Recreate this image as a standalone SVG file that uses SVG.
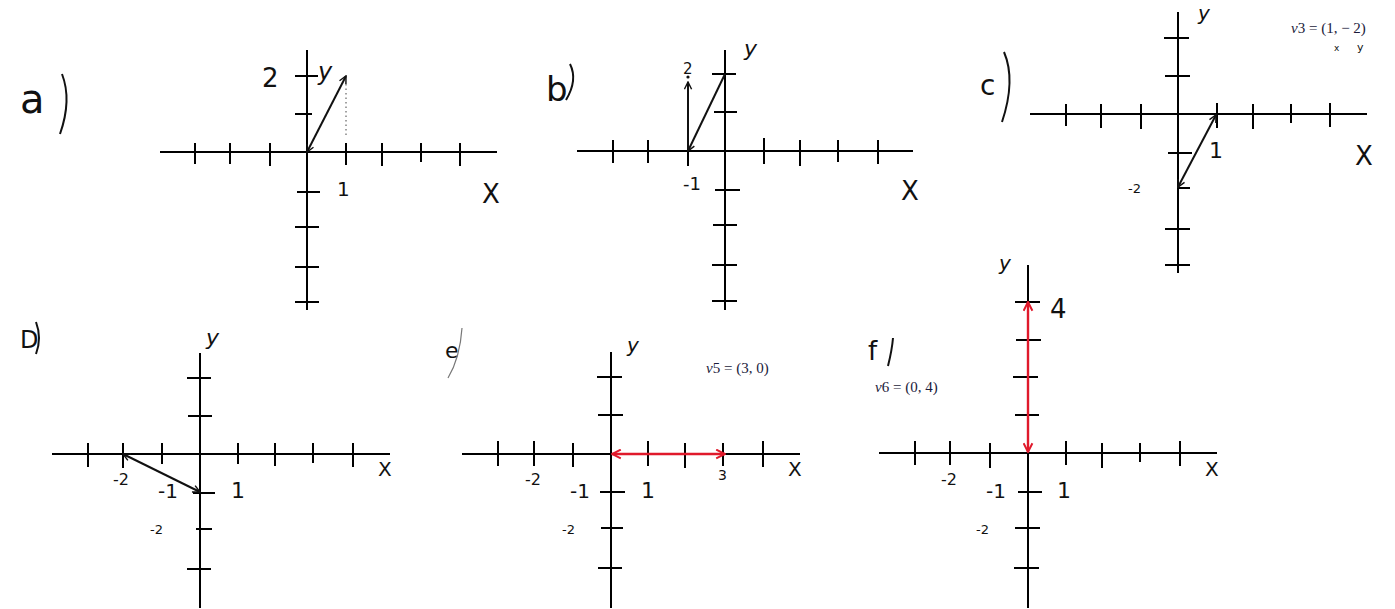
<svg xmlns="http://www.w3.org/2000/svg" width="1395" height="609" viewBox="0 0 1395 609">
<defs>
<marker id="ah" viewBox="0 0 10 10" refX="9" refY="5" markerWidth="9" markerHeight="9" orient="auto-start-reverse" markerUnits="userSpaceOnUse">
<path d="M1,1 L9,5 L1,9" fill="none" stroke="#111" stroke-width="1.6"/>
</marker>
<marker id="ahr" viewBox="0 0 10 10" refX="9" refY="5" markerWidth="11" markerHeight="11" orient="auto-start-reverse" markerUnits="userSpaceOnUse">
<path d="M1,1 L9,5 L1,9" fill="none" stroke="#e0192b" stroke-width="1.8"/>
</marker>
</defs>
<style>
.ax{stroke:#000;stroke-width:2;fill:none}
.tk{stroke:#000;stroke-width:2}
.vec{stroke:#111;stroke-width:2;fill:none}
.red{stroke:#e0192b;stroke-width:2.4;fill:none}
.hw{font-family:"DejaVu Sans",sans-serif;font-weight:normal;fill:#111}
.m{font-family:"Liberation Serif",serif;font-size:15px;fill:#1a1a3a}
</style>
<rect width="1395" height="609" fill="#fff"/>

<g id="panel-a">
<line class="ax" x1="160" y1="152" x2="497" y2="152"/>
<line class="ax" x1="307" y1="50" x2="307" y2="310"/>
<g class="tk">
<line x1="195" y1="143" x2="195" y2="164"/><line x1="230" y1="143" x2="230" y2="164"/><line x1="270" y1="143" x2="270" y2="166"/>
<line x1="346" y1="143" x2="346" y2="165"/><line x1="382" y1="143" x2="382" y2="166"/><line x1="421" y1="143" x2="421" y2="162"/><line x1="460" y1="143" x2="460" y2="166"/>
<line x1="295" y1="76" x2="318" y2="76"/><line x1="295" y1="114" x2="312" y2="114"/><line x1="297" y1="192" x2="320" y2="192"/>
<line x1="295" y1="227" x2="319" y2="227"/><line x1="295" y1="267" x2="319" y2="267"/><line x1="295" y1="302" x2="319" y2="302"/>
</g>
<line x1="346" y1="84" x2="346" y2="136" stroke="#444" stroke-width="1" stroke-dasharray="1.5 3"/>
<text class="hw" x="262" y="87" font-size="26">2</text>
<text class="hw" x="337" y="196" font-size="20">1</text>
<text class="hw" x="482" y="203" font-size="26">X</text>
<text class="hw" x="318" y="80" font-size="24" font-style="italic">y</text>
<text class="hw" x="20" y="113" font-size="40">a</text>
<path d="M62,74 Q72,100 60,134" class="vec" stroke-width="1.6"/>
</g>

<g id="panel-b">
<line class="ax" x1="577" y1="151" x2="913" y2="151"/>
<line class="ax" x1="725" y1="50" x2="725" y2="310"/>
<g class="tk">
<line x1="613" y1="140" x2="613" y2="163"/><line x1="648" y1="140" x2="648" y2="163"/><line x1="688" y1="140" x2="688" y2="166"/>
<line x1="764" y1="138" x2="764" y2="164"/><line x1="800" y1="140" x2="800" y2="166"/><line x1="838" y1="140" x2="838" y2="162"/><line x1="878" y1="140" x2="878" y2="164"/>
<line x1="712" y1="74" x2="736" y2="74"/><line x1="714" y1="112" x2="737" y2="112"/><line x1="715" y1="190" x2="740" y2="190"/>
<line x1="713" y1="225" x2="737" y2="225"/><line x1="712" y1="265" x2="737" y2="265"/><line x1="712" y1="301" x2="737" y2="301"/>
</g>
<text class="hw" x="683" y="74" font-size="15">2</text>
<circle cx="688" cy="77" r="1.6" fill="#111"/>
<text class="hw" x="683" y="190" font-size="18" fill="#555">-1</text>
<text class="hw" x="901" y="200" font-size="26">X</text>
<text class="hw" x="744" y="56" font-size="22" font-style="italic">y</text>
<text class="hw" x="546" y="101" font-size="34">b</text>
<path d="M570,64 Q578,80 566,100" class="vec" stroke-width="1.6"/>
</g>

<g id="panel-c">
<line class="ax" x1="1030" y1="114" x2="1367" y2="114"/>
<line class="ax" x1="1178" y1="12" x2="1178" y2="273"/>
<g class="tk">
<line x1="1066" y1="104" x2="1066" y2="126"/><line x1="1101" y1="104" x2="1101" y2="128"/><line x1="1141" y1="104" x2="1141" y2="129"/>
<line x1="1217" y1="103" x2="1217" y2="128"/><line x1="1253" y1="104" x2="1253" y2="129"/><line x1="1291" y1="104" x2="1291" y2="123"/><line x1="1330" y1="103" x2="1330" y2="127"/>
<line x1="1164" y1="38" x2="1189" y2="38"/><line x1="1165" y1="76" x2="1190" y2="76"/><line x1="1168" y1="153" x2="1192" y2="153"/>
<line x1="1178" y1="188" x2="1190" y2="188"/><line x1="1165" y1="229" x2="1190" y2="229"/><line x1="1165" y1="265" x2="1190" y2="265"/>
</g>
<text class="hw" x="1209" y="158" font-size="22">1</text>
<text class="hw" x="1128" y="193" font-size="13">-2</text>
<text class="hw" x="1355" y="165" font-size="26">X</text>
<text class="hw" x="1198" y="20" font-size="20" font-style="italic">y</text>
<text class="hw" x="980" y="95" font-size="28">c</text>
<path d="M1004,52 Q1016,80 1002,122" class="vec" stroke-width="1.6"/>
<text class="m" x="1291" y="33"><tspan font-style="italic">v</tspan>3 = (1, − 2)</text>
<text class="hw" x="1334" y="51" font-size="9">x</text>
<text class="hw" x="1357" y="51" font-size="11">y</text>
</g>

<g id="panel-d">
<line class="ax" x1="52" y1="454" x2="390" y2="454"/>
<line class="ax" x1="200" y1="353" x2="200" y2="608"/>
<g class="tk">
<line x1="88" y1="443" x2="88" y2="467"/><line x1="123" y1="443" x2="123" y2="468"/><line x1="162" y1="443" x2="162" y2="464"/>
<line x1="238" y1="443" x2="238" y2="464"/><line x1="275" y1="443" x2="275" y2="466"/><line x1="313" y1="443" x2="313" y2="463"/><line x1="353" y1="443" x2="353" y2="467"/>
<line x1="187" y1="378" x2="211" y2="378"/><line x1="188" y1="416" x2="212" y2="416"/><line x1="193" y1="493" x2="215" y2="493"/>
<line x1="196" y1="529" x2="212" y2="529"/><line x1="187" y1="569" x2="211" y2="569"/>
</g>
<text class="hw" x="113" y="485" font-size="16">-2</text>
<text class="hw" x="158" y="498" font-size="20">-1</text>
<text class="hw" x="231" y="498" font-size="22">1</text>
<text class="hw" x="150" y="534" font-size="13">-2</text>
<text class="hw" x="378" y="476" font-size="20">X</text>
<text class="hw" x="206" y="345" font-size="22" font-style="italic">y</text>
<text class="hw" x="20" y="348" font-size="24">D</text>
<path d="M36,322 Q42,338 36,354" class="vec" stroke-width="1.6"/>
</g>

<g id="panel-e">
<line class="ax" x1="462" y1="454" x2="800" y2="454"/>
<line class="ax" x1="611" y1="352" x2="611" y2="608"/>
<g class="tk">
<line x1="498" y1="441" x2="498" y2="466"/><line x1="534" y1="441" x2="534" y2="466"/><line x1="573" y1="443" x2="573" y2="467"/>
<line x1="648" y1="441" x2="648" y2="466"/><line x1="685" y1="443" x2="685" y2="468"/><line x1="723" y1="443" x2="723" y2="466"/><line x1="763" y1="441" x2="763" y2="467"/>
<line x1="597" y1="377" x2="622" y2="377"/><line x1="598" y1="415" x2="623" y2="415"/><line x1="600" y1="492" x2="625" y2="492"/>
<line x1="601" y1="528" x2="623" y2="528"/><line x1="598" y1="568" x2="622" y2="568"/>
</g>
<text class="hw" x="525" y="485" font-size="16">-2</text>
<text class="hw" x="570" y="498" font-size="20">-1</text>
<text class="hw" x="641" y="498" font-size="22">1</text>
<text class="hw" x="718" y="480" font-size="14">3</text>
<text class="hw" x="562" y="534" font-size="13">-2</text>
<text class="hw" x="788" y="476" font-size="20">X</text>
<text class="hw" x="627" y="352" font-size="20" font-style="italic">y</text>
<text class="hw" x="445" y="358" font-size="22" fill="#666">e</text>
<path d="M462,328 Q460,358 448,378" fill="none" stroke="#777" stroke-width="1.2"/>
<text class="m" x="706" y="373"><tspan font-style="italic">v</tspan>5 = (3, 0)</text>
</g>

<g id="panel-f">
<line class="ax" x1="879" y1="453" x2="1217" y2="453"/>
<line class="ax" x1="1028" y1="265" x2="1028" y2="608"/>
<g class="tk">
<line x1="915" y1="441" x2="915" y2="465"/><line x1="950" y1="441" x2="950" y2="465"/><line x1="990" y1="443" x2="990" y2="468"/>
<line x1="1066" y1="441" x2="1066" y2="465"/><line x1="1102" y1="443" x2="1102" y2="468"/><line x1="1140" y1="443" x2="1140" y2="462"/><line x1="1180" y1="441" x2="1180" y2="466"/>
<line x1="1015" y1="302" x2="1040" y2="302"/><line x1="1016" y1="340" x2="1041" y2="340"/><line x1="1013" y1="377" x2="1038" y2="377"/>
<line x1="1015" y1="415" x2="1039" y2="415"/><line x1="1018" y1="492" x2="1042" y2="492"/><line x1="1015" y1="528" x2="1040" y2="528"/><line x1="1014" y1="568" x2="1039" y2="568"/>
</g>
<text class="hw" x="941" y="485" font-size="16">-2</text>
<text class="hw" x="986" y="498" font-size="20">-1</text>
<text class="hw" x="1057" y="498" font-size="22">1</text>
<text class="hw" x="976" y="534" font-size="13">-2</text>
<text class="hw" x="1205" y="476" font-size="20">X</text>
<text class="hw" x="999" y="270" font-size="20" font-style="italic">y</text>
<text class="hw" x="1050" y="318" font-size="26">4</text>
<text class="hw" x="868" y="360" font-size="26">f</text>
<path d="M893,338 Q892,350 888,366" class="vec" stroke-width="1.4"/>
<text class="m" x="875" y="392"><tspan font-style="italic">v</tspan>6 = (0, 4)</text>
</g>

<g id="connectors">
<line class="vec" x1="307" y1="152" x2="346" y2="76" marker-start="url(#ah)" marker-end="url(#ah)"/>
<line class="vec" x1="688" y1="151" x2="725" y2="74" marker-start="url(#ah)"/>
<line class="vec" x1="688" y1="151" x2="688" y2="82" marker-end="url(#ah)"/>
<line class="vec" x1="1178" y1="187" x2="1216" y2="115" marker-start="url(#ah)" marker-end="url(#ah)"/>
<line class="vec" x1="123" y1="454" x2="200" y2="492" marker-start="url(#ah)" marker-end="url(#ah)"/>
<line class="red" x1="612" y1="454" x2="725" y2="454" marker-start="url(#ahr)" marker-end="url(#ahr)"/>
<line class="red" x1="1028" y1="452" x2="1028" y2="302" marker-start="url(#ahr)" marker-end="url(#ahr)"/>
</g>
</svg>
